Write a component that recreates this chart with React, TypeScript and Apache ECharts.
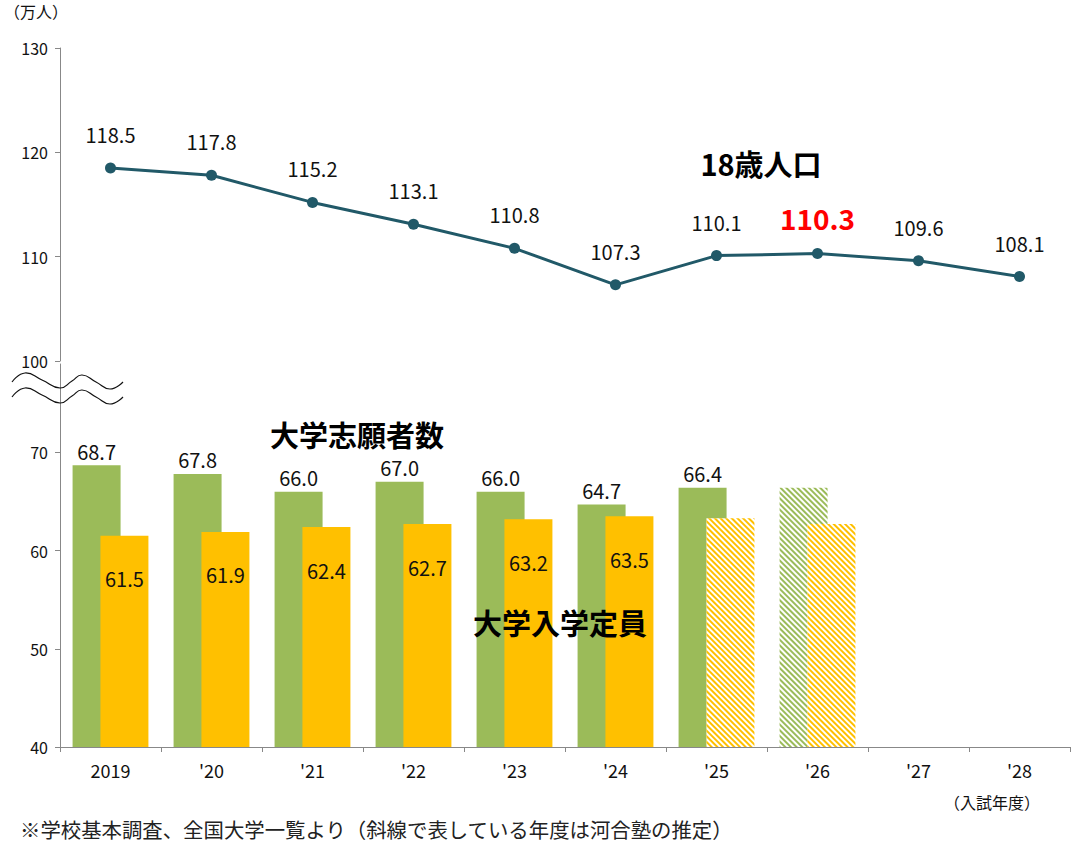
import React, { useEffect, useRef } from "react";
import * as echarts from "echarts";

const categories = ["2019", "'20", "'21", "'22", "'23", "'24", "'25", "'26", "'27", "'28"];
const population = [118.5, 117.8, 115.2, 113.1, 110.8, 107.3, 110.1, 110.3, 109.6, 108.1];
const applicants = [68.7, 67.8, 66.0, 67.0, 66.0, 64.7, 66.4, 66.4, null, null];
const capacity = [61.5, 61.9, 62.4, 62.7, 63.2, 63.5, 63.3, 62.7, null, null];
const applicantsEstimated = [false, false, false, false, false, false, false, true, false, false];
const capacityEstimated = [false, false, false, false, false, false, true, true, false, false];
const highlightIndex = 7;
const topTicks = [100, 110, 120, 130];
const bottomTicks = [40, 50, 60, 70];

const FONT = "'Noto Sans CJK JP', 'Noto Sans', sans-serif";
const GREEN = "#9BBB59";
const YELLOW = "#FFC000";
const LINE = "#215968";
const AXIS = "#888888";

function hatch(color: string) {
  return {
    symbol: "rect",
    symbolSize: 1,
    color,
    backgroundColor: "#ffffff",
    dashArrayX: [1, 0],
    dashArrayY: [1.4, 1.4],
    rotation: Math.PI / 4,
  };
}

export default function App() {
  const ref = useRef<HTMLDivElement>(null);
  useEffect(() => {
    if (!ref.current) return;
    const chart = echarts.init(ref.current, undefined, { renderer: "svg" });

    const wave = (dy: number) => [
      [12, 382 + dy], [25, 373 + dy], [42, 380 + dy], [60, 388 + dy], [72, 381 + dy],
      [82, 375 + dy], [96, 382 + dy], [110, 389 + dy], [123, 382 + dy],
    ];

    const option: any = {
      animation: false,
      backgroundColor: "#ffffff",
      textStyle: { fontFamily: FONT },
      grid: [
        { left: 60, right: 3, top: 48, height: 313 },
        { left: 60, right: 3, top: 364, bottom: 103 },
      ],
      xAxis: [
        { type: "category", gridIndex: 0, data: categories, show: false },
        {
          type: "category",
          gridIndex: 1,
          data: categories,
          axisLine: { lineStyle: { color: AXIS, width: 1 } },
          axisTick: { show: true, length: 5, lineStyle: { color: AXIS } },
          axisLabel: { color: "#111", fontSize: 18, margin: 14, fontFamily: FONT },
        },
      ],
      yAxis: [
        {
          type: "value",
          gridIndex: 0,
          min: 100,
          max: 130,
          interval: 10,
          splitLine: { show: false },
          axisLine: { show: true, lineStyle: { color: AXIS } },
          axisTick: { show: true, length: 5, lineStyle: { color: AXIS }, customValues: topTicks },
          axisLabel: { color: "#111", fontSize: 16, margin: 12, fontFamily: FONT, customValues: topTicks },
        },
        {
          type: "value",
          gridIndex: 1,
          min: 40,
          max: 79,
          splitLine: { show: false },
          axisLine: { show: true, lineStyle: { color: AXIS } },
          axisTick: { show: true, length: 5, lineStyle: { color: AXIS }, customValues: bottomTicks },
          axisLabel: { color: "#111", fontSize: 16, margin: 12, fontFamily: FONT, customValues: bottomTicks },
        },
      ],
      series: [
        {
          type: "line",
          xAxisIndex: 0,
          yAxisIndex: 0,
          data: population.map((v, i) =>
            i === highlightIndex
              ? {
                  value: v,
                  label: { color: "#FF0000", fontSize: 28, fontWeight: "bold", distance: 16 },
                }
              : v
          ),
          symbol: "circle",
          symbolSize: 11,
          lineStyle: { color: LINE, width: 3 },
          itemStyle: { color: LINE },
          label: {
            show: true,
            position: "top",
            distance: 18,
            fontSize: 20,
            color: "#111",
            fontFamily: FONT,
            formatter: (p: any) => Number(p.value).toFixed(1),
          },
          z: 5,
        },
        {
          type: "bar",
          xAxisIndex: 1,
          yAxisIndex: 1,
          barWidth: 48,
          barGap: "-42%",
          data: applicants.map((v, i) =>
            applicantsEstimated[i]
              ? { value: v, itemStyle: { color: "#ffffff", decal: hatch(GREEN) }, label: { show: false } }
              : v
          ),
          itemStyle: { color: GREEN },
          label: {
            show: true,
            position: "top",
            distance: 4,
            fontSize: 20,
            lineHeight: 20,
            color: "#111",
            fontFamily: FONT,
            formatter: (p: any) => (p.value == null ? "" : Number(p.value).toFixed(1)),
          },
        },
        {
          type: "bar",
          xAxisIndex: 1,
          yAxisIndex: 1,
          barWidth: 48,
          barGap: "-42%",
          data: capacity.map((v, i) =>
            capacityEstimated[i]
              ? { value: v, itemStyle: { color: "#ffffff", decal: hatch(YELLOW) }, label: { show: false } }
              : v
          ),
          itemStyle: { color: YELLOW },
          label: {
            show: true,
            position: "insideTop",
            distance: 33,
            fontSize: 20,
            color: "#111",
            fontFamily: FONT,
            formatter: (p: any) => (p.value == null ? "" : Number(p.value).toFixed(1)),
          },
        },
      ],
      graphic: [
        {
          type: "text",
          left: 4,
          top: 3,
          style: { text: "（万人）", fontSize: 16, fill: "#111", fontFamily: FONT },
        },
        {
          type: "polyline",
          shape: { points: wave(0), smooth: 0.5 },
          style: { stroke: "#111", lineWidth: 1.2, fill: null },
          z: 100,
        },
        {
          type: "polyline",
          shape: { points: wave(15), smooth: 0.5 },
          style: { stroke: "#111", lineWidth: 1.2, fill: null },
          z: 100,
        },
        {
          type: "text",
          x: 761,
          y: 163,
          style: { text: "18歳人口", fontSize: 29, fontWeight: "bold", fill: "#000", fontFamily: FONT, align: "center", verticalAlign: "middle" },
          z: 100,
        },
        {
          type: "text",
          x: 357,
          y: 434,
          style: { text: "大学志願者数", fontSize: 29, lineHeight: 29, fontWeight: "bold", fill: "#000", fontFamily: FONT, align: "center", verticalAlign: "middle" },
          z: 100,
        },
        {
          type: "text",
          x: 560,
          y: 622,
          style: { text: "大学入学定員", fontSize: 29, fontWeight: "bold", fill: "#000", fontFamily: FONT, align: "center", verticalAlign: "middle" },
          z: 100,
        },
        {
          type: "text",
          x: 992,
          y: 802,
          style: { text: "（入試年度）", fontSize: 16, fill: "#111", fontFamily: FONT, align: "center", verticalAlign: "middle" },
        },
        {
          type: "text",
          x: 20,
          y: 829,
          style: {
            text: "※学校基本調査、全国大学一覧より（斜線で表している年度は河合塾の推定）",
            fontSize: 20.4,
            fill: "#222",
            fontFamily: FONT,
            verticalAlign: "middle",
          },
        },
      ],
    };
    chart.setOption(option);
    return () => chart.dispose();
  }, []);

  return (
    <div
      ref={ref}
      style={{ position: "fixed", left: 0, top: 0, width: 1073, height: 850, background: "#fff" }}
    />
  );
}
